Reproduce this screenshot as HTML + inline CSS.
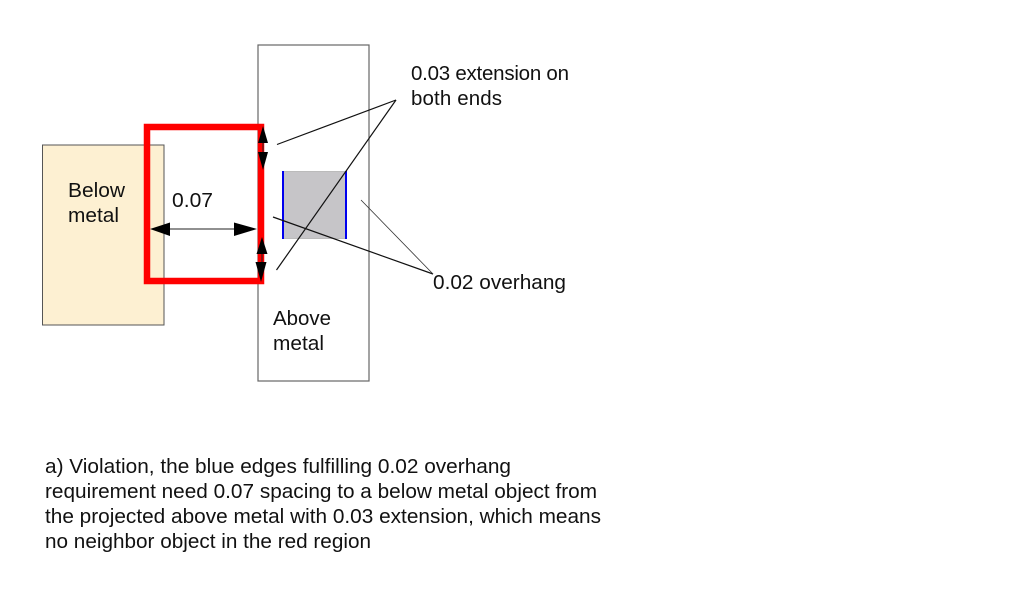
<!DOCTYPE html>
<html>
<head>
<meta charset="utf-8">
<style>
html,body{margin:0;padding:0;background:#fff;width:1013px;height:589px;overflow:hidden}
svg{display:block}
text{font-family:"Liberation Sans",Arial,sans-serif;font-size:20.5px;fill:#111}
</style>
</head>
<body>
<svg width="1013" height="589" viewBox="0 0 1013 589" xmlns="http://www.w3.org/2000/svg">
<rect width="1013" height="589" fill="#fff"/>
<rect x="42.5" y="145" width="121.5" height="180" fill="#fdf0d2" stroke="#555" stroke-width="1"/>
<rect x="258" y="45" width="111" height="336" fill="#fff" stroke="#666" stroke-width="1.2"/>
<rect x="283" y="171.500" width="63" height="67" fill="#c6c5c8" stroke="#bbb" stroke-width="1"/>
<line x1="283" y1="171" x2="283" y2="239" stroke="#0000ee" stroke-width="2"/>
<line x1="346" y1="171" x2="346" y2="239" stroke="#0000ee" stroke-width="2"/>
<rect x="147" y="127" width="114" height="154" fill="none" stroke="#ff0000" stroke-width="6.500"/>
<line x1="277" y1="144.500" x2="396" y2="100" stroke="#111" stroke-width="1.200"/>
<line x1="276.500" y1="270" x2="396" y2="100" stroke="#111" stroke-width="1.200"/>
<line x1="273" y1="217" x2="433" y2="274" stroke="#111" stroke-width="1.200"/>
<line x1="361" y1="200" x2="433" y2="274" stroke="#333" stroke-width="0.800"/>
<line x1="165" y1="229" x2="240" y2="229" stroke="#222" stroke-width="1"/>
<polygon points="150,229 170,222.500 170,236" fill="#000"/>
<polygon points="257,229 234,222.500 234,236" fill="#000"/>
<line x1="263" y1="140" x2="263" y2="155" stroke="#222" stroke-width="1"/>
<polygon points="263,126 268,143 258,143" fill="#000"/>
<polygon points="263,170 268,152 258,152" fill="#000"/>
<line x1="262" y1="250" x2="262" y2="266" stroke="#222" stroke-width="1"/>
<polygon points="262,237 267.500,254 256.500,254" fill="#000"/>
<polygon points="261,282 266.500,262 255.500,262" fill="#000"/>
<text x="68" y="197" textLength="57" lengthAdjust="spacingAndGlyphs">Below</text>
<text x="68" y="222" textLength="51" lengthAdjust="spacingAndGlyphs">metal</text>
<text x="172" y="207" textLength="41" lengthAdjust="spacingAndGlyphs">0.07</text>
<text x="273" y="325" textLength="58" lengthAdjust="spacingAndGlyphs">Above</text>
<text x="273" y="350" textLength="51" lengthAdjust="spacingAndGlyphs">metal</text>
<text x="411" y="80" textLength="158" lengthAdjust="spacing">0.03 extension on</text>
<text x="411" y="105" textLength="91" lengthAdjust="spacing">both ends</text>
<text x="433" y="289" textLength="133" lengthAdjust="spacingAndGlyphs">0.02 overhang</text>
<text x="45" y="473" textLength="466" lengthAdjust="spacingAndGlyphs">a) Violation, the blue edges fulfilling 0.02 overhang</text>
<text x="45" y="498" textLength="552" lengthAdjust="spacingAndGlyphs">requirement need 0.07 spacing to a below metal object from</text>
<text x="45" y="523" textLength="556" lengthAdjust="spacingAndGlyphs">the projected above metal with 0.03 extension, which means</text>
<text x="45" y="548" textLength="326" lengthAdjust="spacingAndGlyphs">no neighbor object in the red region</text>
</svg>
</body>
</html>
